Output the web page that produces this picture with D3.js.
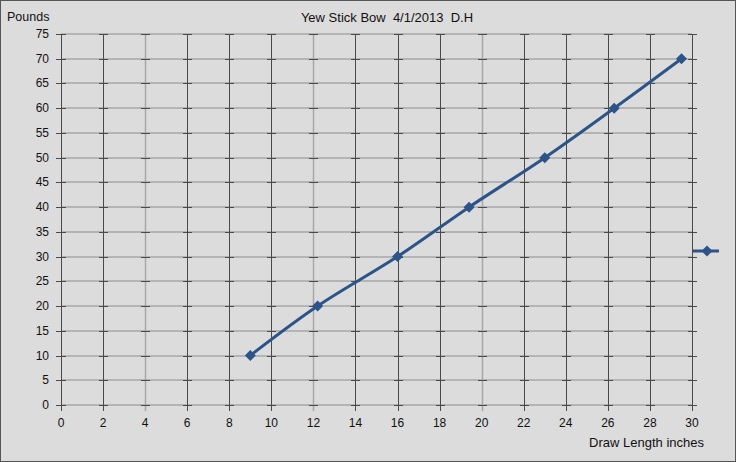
<!DOCTYPE html>
<html>
<head>
<meta charset="utf-8">
<script src="https://cdn.jsdelivr.net/npm/d3@7"></script>
<style>
  body { margin: 0; background: #dcdcdc; }
  text { font-family: "Liberation Sans", Arial, sans-serif; fill: #111; }
</style>
</head>
<body>
<div id="chart"></div>
<script>
var chartTitle = 'Yew Stick Bow  4/1/2013  D.H'
var yAxisLabel = 'Pounds'
var xAxisLabel = 'Draw Length inches'

var drawLength = [9, 12.2, 16, 19.4, 23, 26.3, 29.5]
var pounds = [10, 20, 30, 40, 50, 60, 70]
var xTicks = [0, 2, 4, 6, 8, 10, 12, 14, 16, 18, 20, 22, 24, 26, 28, 30]
var yTicks = [0, 5, 10, 15, 20, 25, 30, 35, 40, 45, 50, 55, 60, 65, 70, 75]
var lightX = [4, 12, 20]

var W = 736, H = 462;
var lineColor = '#2c5489';

var svg = d3.select('#chart').append('svg')
    .attr('width', W).attr('height', H);

svg.append('rect')
    .attr('x', 0.5).attr('y', 0.5)
    .attr('width', W - 1).attr('height', H - 1)
    .attr('fill', '#dcdcdc')
    .attr('stroke', '#555');

var xScale = d3.scaleLinear().domain([0, 30]).range([61, 692]);
var yScale = d3.scaleLinear().domain([0, 75]).range([405, 34]);

var g = svg.append('g');

// horizontal grid (light)
g.selectAll('.hgrid').data(yTicks).enter().append('line')
    .attr('x1', xScale(0)).attr('x2', xScale(30))
    .attr('y1', d => Math.round(yScale(d)))
    .attr('y2', d => Math.round(yScale(d)))
    .attr('stroke', '#b4b4b4').attr('stroke-width', 2);

// vertical grid (dark)
g.selectAll('.vgrid').data(xTicks).enter().append('line')
    .attr('x1', d => Math.round(xScale(d)) + 0.5)
    .attr('x2', d => Math.round(xScale(d)) + 0.5)
    .attr('y1', yScale(75)).attr('y2', yScale(0) + 6)
    .attr('stroke', d => lightX.includes(d) ? '#a6a6a6' : '#4a4a4a')
    .attr('stroke-width', d => lightX.includes(d) ? 1.5 : 1);

// little crosses at every intersection
xTicks.forEach(function(xv) {
  g.selectAll(null).data(yTicks).enter().append('line')
    .attr('x1', Math.round(xScale(xv)) - 4)
    .attr('x2', Math.round(xScale(xv)) + 5)
    .attr('y1', d => Math.round(yScale(d)) + 0.5)
    .attr('y2', d => Math.round(yScale(d)) + 0.5)
    .attr('stroke', '#4a4a4a').attr('stroke-width', 1);
});

// y tick marks and labels
g.selectAll('.ytick').data(yTicks).enter().append('line')
    .attr('x1', xScale(0) - 5).attr('x2', xScale(0))
    .attr('y1', d => Math.round(yScale(d)) + 0.5)
    .attr('y2', d => Math.round(yScale(d)) + 0.5)
    .attr('stroke', '#4a4a4a');
g.selectAll('.ylab').data(yTicks).enter().append('text')
    .attr('x', 49).attr('y', d => yScale(d) + 4)
    .attr('text-anchor', 'end')
    .style('font-size', '12px')
    .text(d => d);

g.selectAll('.xlab').data(xTicks).enter().append('text')
    .attr('x', d => xScale(d)).attr('y', 427)
    .attr('text-anchor', 'middle')
    .style('font-size', '12px')
    .text(d => d);

// titles
svg.append('text')
    .attr('x', 387).attr('y', 22)
    .attr('text-anchor', 'middle')
    .attr('xml:space', 'preserve')
    .style('white-space', 'pre')
    .style('font-size', '13px')
    .text(chartTitle);
svg.append('text')
    .attr('x', 7).attr('y', 21)
    .style('font-size', '12.5px')
    .text(yAxisLabel);
svg.append('text')
    .attr('x', 704).attr('y', 447)
    .attr('text-anchor', 'end')
    .style('font-size', '13px')
    .text(xAxisLabel);

// data
var points = drawLength.map((d, i) => ({x: d, y: pounds[i]}));

var line = d3.line()
    .x(d => xScale(d.x))
    .y(d => yScale(d.y))
    .curve(d3.curveCatmullRom.alpha(0.5));

g.append('path')
    .datum(points)
    .attr('d', line)
    .attr('fill', 'none')
    .attr('stroke', lineColor)
    .attr('stroke-width', 3);

// square diamond marker, like Excel's
var diamond = 'M0,-5.5L5.5,0L0,5.5L-5.5,0Z';
g.selectAll('.pt').data(points).enter().append('path')
    .attr('d', diamond)
    .attr('transform', d => 'translate(' + xScale(d.x) + ',' + yScale(d.y) + ')')
    .attr('fill', lineColor);

// legend
var legendG = svg.append('g').attr('transform', 'translate(693,251)');
legendG.append('line')
    .attr('x1', 0).attr('x2', 26).attr('y1', 0).attr('y2', 0)
    .attr('stroke', lineColor).attr('stroke-width', 3);
legendG.append('path')
    .attr('d', diamond)
    .attr('transform', 'translate(14,0)')
    .attr('fill', lineColor);
</script>
</body>
</html>
